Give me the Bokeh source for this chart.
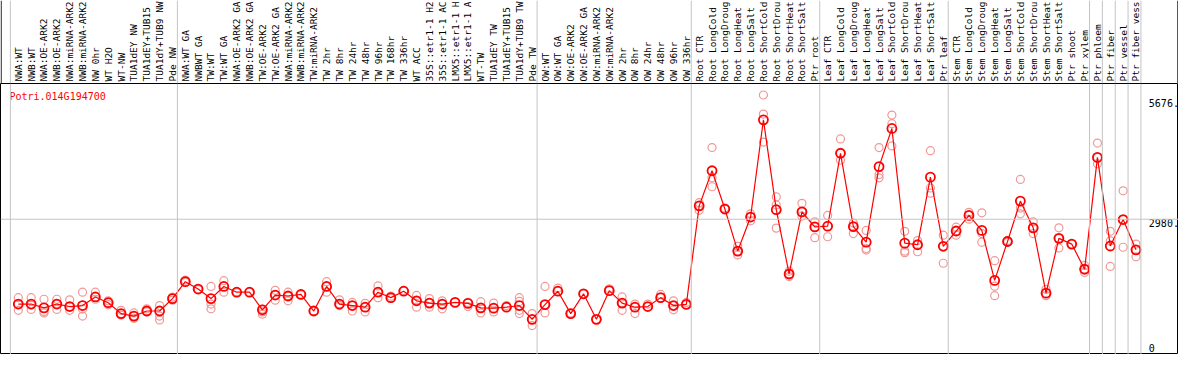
import numpy as np
from bokeh.plotting import figure
from bokeh.layouts import column
from bokeh.models import Span, ColumnDataSource, Range1d
from bokeh.core.properties import value
from bokeh.embed import file_html
from bokeh.resources import INLINE

gene = "Potri.014G194700"

# sample labels as they are visible in the chart header
samples = [
    "NWA:WT", "NWB:WT", "NWA:OE-ARK2", "NWB:OE-ARK2", "NWA:miRNA-ARK2", "NWB:miRNA-ARK2",
    "NW 0hr", "WT H2O", "WT-NW", "TUA1dEY NW", "TUA1dEY+TUB15", "TUA1dY+TUB9 NW", "Pde NW",
    "NWA:WT GA", "NWBWT GA", "TW:WT", "TW:WT GA", "NWA:OE-ARK2 GA", "NWB:OE-ARK2 GA",
    "TW:OE-ARK2", "TW:OE-ARK2 GA", "NWA:miRNA-ARK2", "NWB:miRNA-ARK2", "TW:miRNA-ARK2",
    "TW 2hr", "TW 8hr", "TW 24hr", "TW 48hr", "TW 96hr", "TW 168hr", "TW 336hr", "WT ACC",
    "35S::etr1-1 H2", "35S::etr1-1 AC", "LMX5::etr1-1 H", "LMX5::etr1-1 A", "WT-TW",
    "TUA1dEY TW", "TUA1dEY+TUB15", "TUA1dY+TUB9 TW", "Pde TW",
    "OW:WT", "OW:WT GA", "OW:OE-ARK2", "OW:OE-ARK2 GA", "OW:miRNA-ARK2", "OW:miRNA-ARK2",
    "OW 2hr", "OW 8hr", "OW 24hr", "OW 48hr", "OW 96hr", "OW 336hr",
    "Root CTR", "Root LongCold", "Root LongDroug", "Root LongHeat", "Root LongSalt",
    "Root ShortCold", "Root ShortDrou", "Root ShortHeat", "Root ShortSalt", "Ptr root",
    "Leaf CTR", "Leaf LongCold", "Leaf LongDroug", "Leaf LongHeat", "Leaf LongSalt",
    "Leaf ShortCold", "Leaf ShortDrou", "Leaf ShortHeat", "Leaf ShortSalt", "Ptr leaf",
    "Stem CTR", "Stem LongCold", "Stem LongDroug", "Stem LongHeat", "Stem LongSalt",
    "Stem ShortCold", "Stem ShortDrou", "Stem ShortHeat", "Stem ShortSalt", "Ptr shoot", "Ptr xylem",
    "Ptr phloem", "Ptr fiber", "Ptr vessel", "Ptr fiber vess",
]

# index of the first sample of each group (last entry = end)
group_starts = [0, 13, 41, 53, 63, 73, 84, 85, 86, 87, 88]

means = [
    1074, 1074, 988, 1074, 1018, 1040, 1233, 1104, 859, 803, 917, 917, 1197,
    1577, 1411, 1197, 1469, 1340, 1340, 945, 1276, 1255, 1289, 917, 1469, 1074, 1040,
    1003, 1340, 1218, 1362, 1147, 1096, 1074, 1111, 1089, 988, 982, 1003, 1040, 730,
    1061, 1362, 859, 1304, 730, 1375, 1096, 1003, 1018, 1218, 1040, 1065,
    3280, 4069, 3209, 2264, 3029, 5214, 3194, 1749, 3145, 2808,
    2823, 4462, 2814, 2464, 4161, 5020, 2442, 2406, 3925, 2372,
    2715, 3065, 2728, 1605, 2479, 3388, 2786, 1319, 2550, 2421, 1856,
    4369, 2378, 2973, 2292,
]

replicates = [
    [1218, 1074, 932], [1218, 1050, 954], [1182, 908, 874], [1182, 1074, 954],
    [1169, 1018, 932], [1340, 960, 803], [1340, 1182, 1233], [1147, 1104, 1060],
    [932, 825, 859], [874, 752, 803], [967, 896, 917], [1040, 803, 718], [1160, 1230],
    [1611, 1560], [1411, 1400], [1469, 1074, 967], [1598, 1340, 1469], [1350, 1330],
    [1340], [960, 896, 846], [1383, 1276, 1160], [1340, 1147, 1255], [1300, 1280],
    [917], [1577, 1340, 1469], [1169, 1040, 1074], [1111, 917, 1040], [1089, 896, 1003],
    [1482, 1218, 1340], [1250, 1200], [1380, 1362], [1267, 1003, 1147], [1197, 1003, 1096],
    [1147, 967, 1074], [1111], [1110, 1018], [1126, 874, 988], [1096, 896, 982],
    [1040, 1003], [1218, 1132, 932, 859], [859, 589, 730],
    [1469, 874, 1061], [1433, 1362], [870, 850], [1304], [730], [1418, 1375],
    [1233, 932, 1096], [1074, 859, 1003], [1074, 1018], [1289, 1218], [1147, 945, 1040],
    [1111, 1061],
    [3351, 3179, 3280], [4591, 3910, 3710], [3230, 3209], [2372, 2178, 2264],
    [3102, 2943, 3029], [5772, 5343, 4713], [3480, 3302, 2780], [1813, 1691, 1749],
    [3338, 3050, 3145], [2922, 2565, 2808],
    [3065, 2586, 2823], [4784, 4305, 4462], [2894, 2657, 2814], [2728, 2320, 2286],
    [4591, 3983, 3910], [5321, 5128, 4627], [2707, 2264, 2228], [2501, 2249, 2406],
    [4520, 3682, 3566], [2621, 1991, 2372],
    [2801, 2621, 2715], [3136, 2980, 3065], [3123, 2657, 2464], [2049, 1476, 1261],
    [2500, 2460], [3875, 3231, 3102], [2922, 2657, 2786], [1405, 1261, 1319],
    [2786, 2335, 2550], [2421], [1942, 1783, 1856],
    [4692, 4225, 4369], [2707, 2492, 1920], [3618, 2350, 2973], [2421, 2135, 2292],
]

y_ticks = [0, 2980, 5676]
y_tick_labels = ["0", "2980.", "5676."]

# ---------------- layout ----------------
W = 1178
H_HEAD = 83
H_MAIN = 271
XR = Range1d(-1.385, 90.31)
FONT = value("DejaVu Sans Mono")
GREY = "#c4c4c4"

idx = list(range(len(samples)))

# header with rotated sample labels
head = figure(width=W, height=H_HEAD, x_range=XR, y_range=Range1d(0, 83),
              output_backend="svg", toolbar_location=None,
              x_axis_type=None, y_axis_type=None, min_border=0)
head.outline_line_color = None
head.grid.visible = False
head.background_fill_color = "white"
head.border_fill_color = "white"

for g in group_starts:
    head.add_layout(Span(location=g - 0.615, dimension="height",
                         line_color=GREY, line_width=1))
head.add_layout(Span(location=XR.start + 0.05, dimension="height", line_color="black", line_width=1))
head.add_layout(Span(location=XR.end - 0.05, dimension="height", line_color="black", line_width=1))

lab_src = ColumnDataSource(dict(x=idx, y=[2] * len(idx), t=samples))
head.text(x="x", y="y", text="t", source=lab_src, angle=np.pi / 2,
          text_align="left", text_baseline="middle",
          text_font=FONT, text_font_size="9.5px", text_color="black")

# main plot
main = figure(width=W, height=H_MAIN, x_range=XR, y_range=Range1d(-60, 6030),
              output_backend="svg", toolbar_location=None,
              x_axis_type=None, y_axis_type=None, min_border=0)
main.outline_line_color = "black"
main.outline_line_width = 1
main.grid.visible = False
main.background_fill_color = "white"
main.border_fill_color = "white"

for g in group_starts:
    main.add_layout(Span(location=g - 0.615, dimension="height",
                         line_color=GREY, line_width=1))
main.add_layout(Span(location=y_ticks[1], dimension="width", line_color=GREY, line_width=1))

rx, ry = [], []
for i, reps in enumerate(replicates):
    for r in reps:
        rx.append(i)
        ry.append(r)

main.scatter(rx, ry, marker="circle", size=8, fill_color=None,
             line_color="#f09898", line_width=1.2)
main.line(idx, means, line_color="#ff0000", line_width=1.2)
main.scatter(idx, means, marker="circle", size=9, fill_color=None,
             line_color="#ff0000", line_width=1.8)

# right-side value labels inside the frame
tick_src = ColumnDataSource(dict(x=[88.0] * 2, y=y_ticks[1:], t=y_tick_labels[1:]))
main.text(x="x", y="y", text="t", source=tick_src, text_align="left",
          text_baseline="top", text_font=FONT, text_font_size="10px", text_color="black")
main.text(x=[88.0], y=[y_ticks[0]], text=[y_tick_labels[0]], text_align="left",
          text_baseline="bottom", text_font=FONT, text_font_size="10px", text_color="black")

# gene title
main.text(x=[-0.69], y=[5860], text=[gene], text_align="left", text_baseline="top",
          text_font=FONT, text_font_size="10px", text_color="#ff0000")

layout = column(head, main, spacing=0)
open("out.html", "w").write(file_html(layout, INLINE))
